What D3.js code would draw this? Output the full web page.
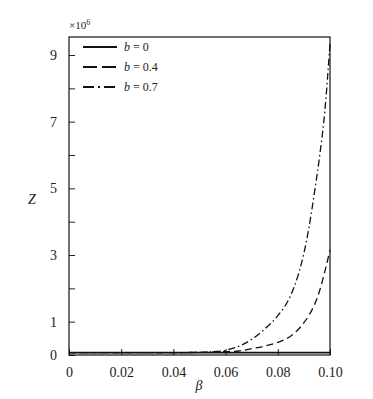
<!DOCTYPE html>
<html>
<head>
<meta charset="utf-8">
<script src="https://cdn.jsdelivr.net/npm/d3@7"></script>
<style>
  body { margin: 0; background: #fff; }
</style>
</head>
<body>
<svg id="chart" width="373" height="399"></svg>
<script>
// beta values (x) and Z in units of 10^6
const beta = [0, 0.01, 0.02, 0.03, 0.04, 0.05, 0.055, 0.06, 0.065, 0.07, 0.075, 0.08, 0.085, 0.088, 0.09, 0.092, 0.094, 0.096, 0.098, 0.1];
const zB0  = [0.07, 0.07, 0.07, 0.07, 0.07, 0.07, 0.07, 0.07, 0.07, 0.07, 0.07, 0.07, 0.07, 0.07, 0.07, 0.07, 0.07, 0.07, 0.07, 0.07];
const zB04 = [0.07, 0.07, 0.07, 0.07, 0.07, 0.08, 0.09, 0.1, 0.12, 0.19, 0.27, 0.38, 0.57, 0.78, 0.97, 1.2, 1.5, 1.92, 2.5, 3.15];
const zB07 = [0.07, 0.07, 0.07, 0.07, 0.07, 0.08, 0.1, 0.14, 0.26, 0.47, 0.78, 1.18, 1.8, 2.45, 3.05, 3.85, 4.85, 5.95, 7.3, 9.35];

const xTicks = [0, 0.02, 0.04, 0.06, 0.08, 0.1];
const xTickLabels = ["0", "0.02", "0.04", "0.06", "0.08", "0.10"];
const yTicks = [0, 1, 2, 3, 4, 5, 6, 7, 8, 9];
const yTickLabels = ["0", "1", "", "3", "", "5", "", "7", "", "9"];

const series = [
    { label: "0",   values: zB0,  dash: null,        legendDash: null,       width: 1.6 },
    { label: "0.4", values: zB04, dash: "7,4",       legendDash: "14,5",     width: 1.3 },
    { label: "0.7", values: zB07, dash: "7,3,1.5,3", legendDash: "11,4,2,4", width: 1.3 }
];

const FONT = "'Liberation Serif', 'DejaVu Serif', serif";

const svg = d3.select("#chart");
const pLeft = 69, pRight = 330, pTop = 37, pBottom = 355;

const x = d3.scaleLinear().domain([0, 0.1]).range([pLeft, pRight]);
const y = d3.scaleLinear().domain([0, 9.54]).range([pBottom, pTop]);

// x axis, ticks pointing inward
svg.append("g")
    .attr("transform", `translate(0,${pBottom})`)
    .call(d3.axisBottom(x).tickValues(xTicks).tickSizeInner(-6).tickSizeOuter(0)
        .tickPadding(12).tickFormat((d, i) => xTickLabels[i]))
    .attr("font-family", FONT)
    .attr("font-size", 14)
    .call(g => g.select(".domain").remove())
    .call(g => g.selectAll("line").attr("stroke", "#222"))
    .call(g => g.selectAll("text").attr("fill", "#222"));

// y axis
svg.append("g")
    .attr("transform", `translate(${pLeft},0)`)
    .call(d3.axisLeft(y).tickValues(yTicks).tickSizeInner(-6).tickSizeOuter(0)
        .tickPadding(12).tickFormat((d, i) => yTickLabels[i]))
    .attr("font-family", FONT)
    .attr("font-size", 14)
    .call(g => g.select(".domain").remove())
    .call(g => g.selectAll("line").attr("stroke", "#222"))
    .call(g => g.selectAll("text").attr("fill", "#222"));

const line = d3.line()
    .x((d, i) => x(beta[i]))
    .y(d => y(d))
    .curve(d3.curveMonotoneX);

svg.append("g")
    .selectAll("path")
    .data(series)
    .enter().append("path")
    .attr("d", d => line(d.values))
    .attr("fill", "none")
    .attr("stroke", "#111")
    .attr("stroke-width", d => d.width)
    .attr("stroke-dasharray", d => d.dash);

// frame
svg.append("rect")
    .attr("x", pLeft)
    .attr("y", pTop)
    .attr("width", pRight - pLeft)
    .attr("height", pBottom - pTop)
    .attr("fill", "none")
    .attr("stroke", "#111")
    .attr("stroke-width", 1.2);

// exponent
const ex = svg.append("text")
    .attr("x", pLeft)
    .attr("y", 29)
    .attr("font-family", FONT)
    .attr("font-size", 11)
    .attr("fill", "#222");
ex.append("tspan").text("×10");
ex.append("tspan").attr("dy", -4).attr("font-size", 8).text("6");

// legend
const legend = svg.append("g")
    .selectAll("g")
    .data(series)
    .enter().append("g")
    .attr("transform", (d, i) => `translate(83,${47 + i * 20})`);

legend.append("line")
    .attr("x1", 0).attr("x2", 34)
    .attr("stroke", "#111")
    .attr("stroke-width", 2)
    .attr("stroke-dasharray", d => d.legendDash);

const lt = legend.append("text")
    .attr("x", 41)
    .attr("dy", "0.35em")
    .attr("font-family", FONT)
    .attr("font-size", 12)
    .attr("fill", "#222");
lt.append("tspan").attr("font-style", "italic").text("b");
lt.append("tspan").text(d => " = " + d.label);

// axis titles
svg.append("text")
    .attr("x", 32)
    .attr("y", 204)
    .attr("text-anchor", "middle")
    .attr("font-family", FONT)
    .attr("font-style", "italic")
    .attr("font-size", 14)
    .attr("fill", "#222")
    .text("Z");

svg.append("text")
    .attr("x", 199)
    .attr("y", 390)
    .attr("text-anchor", "middle")
    .attr("font-family", FONT)
    .attr("font-style", "italic")
    .attr("font-size", 14)
    .attr("fill", "#222")
    .text("β");
</script>
</body>
</html>
